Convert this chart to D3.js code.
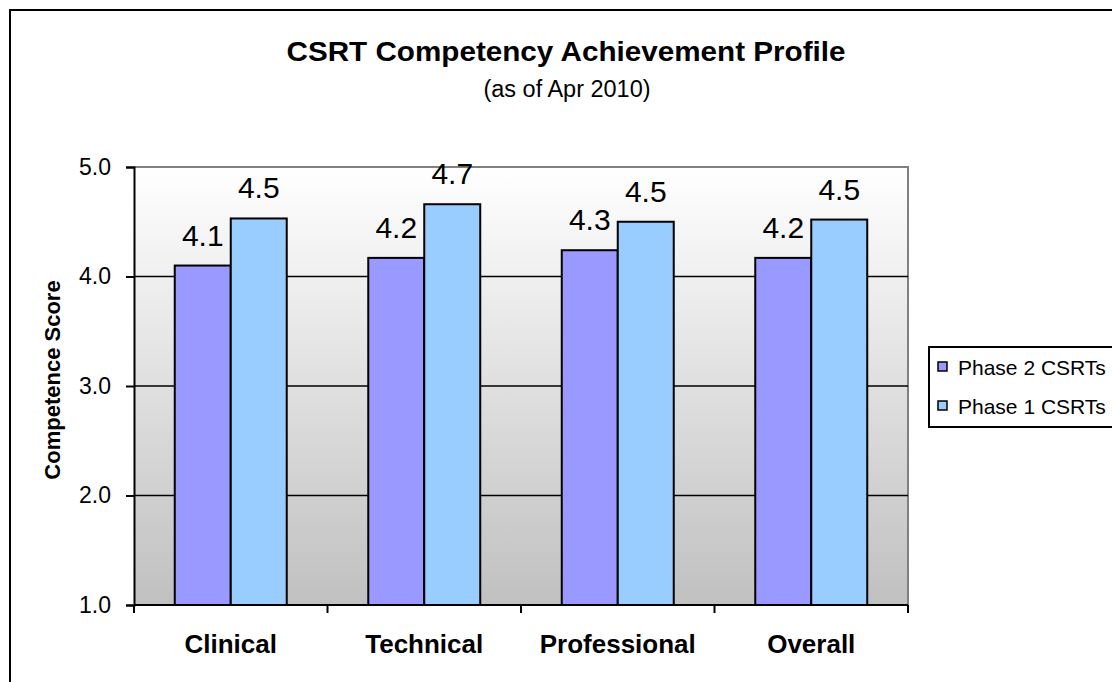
<!DOCTYPE html>
<html>
<head>
<meta charset="utf-8">
<script src="https://cdn.jsdelivr.net/npm/d3@7"></script>
<style>
  body { margin: 0; background: #fff; }
  svg { display: block; font-family: Arial, "Liberation Sans", sans-serif; }
</style>
</head>
<body>
<div id="chart"></div>
<script>
// chart data
var categories = ["Clinical", "Technical", "Professional", "Overall"];
var seriesNames = ["Phase 2 CSRTs", "Phase 1 CSRTs"];
var phase2Scores = [4.1, 4.17, 4.24, 4.17];
var phase1Scores = [4.53, 4.66, 4.5, 4.52];
var phase2Labels = ["4.1", "4.2", "4.3", "4.2"];
var phase1Labels = ["4.5", "4.7", "4.5", "4.5"];
var yTicks = [1, 2, 3, 4, 5];
var seriesColors = ["#9999ff", "#99ccff"];

var W = 1112, H = 682;
var plot = {left: 134, right: 908, top: 167, bottom: 605};

var svg = d3.select("#chart").append("svg")
    .attr("width", W)
    .attr("height", H);

// outer frame of the chart
svg.append("rect")
    .attr("x", 10).attr("y", 10)
    .attr("width", W + 20).attr("height", H + 20)
    .attr("fill", "#fff")
    .attr("stroke", "#000")
    .attr("stroke-width", 2);

var defs = svg.append("defs");
var grad = defs.append("linearGradient")
    .attr("id", "plotBg")
    .attr("x1", 0).attr("y1", 0).attr("x2", 0).attr("y2", 1);
grad.append("stop").attr("offset", "0%").attr("stop-color", "#ffffff");
grad.append("stop").attr("offset", "100%").attr("stop-color", "#c0c0c0");

var y = d3.scaleLinear().domain([1, 5]).range([plot.bottom, plot.top]);
var x0 = d3.scaleBand().domain(categories).range([plot.left, plot.right]).padding(0);
var x1 = d3.scaleBand().domain(seriesNames).range([0, x0.bandwidth()])
    .paddingInner(0).paddingOuter(0.728);

// plot background
svg.append("rect")
    .attr("x", plot.left).attr("y", plot.top)
    .attr("width", plot.right - plot.left)
    .attr("height", plot.bottom - plot.top)
    .attr("fill", "url(#plotBg)");

// top + right border (gray)
svg.append("path")
    .attr("d", "M" + plot.left + "," + plot.top + "H" + plot.right + "V" + plot.bottom)
    .attr("fill", "none")
    .attr("stroke", "#808080")
    .attr("stroke-width", 2);

// gridlines
svg.append("g").selectAll("line")
    .data(yTicks.filter(function(d){ return d > 1 && d < 5; }))
    .enter().append("line")
    .attr("x1", plot.left).attr("x2", plot.right)
    .attr("y1", function(d){ return y(d); })
    .attr("y2", function(d){ return y(d); })
    .attr("stroke", "#000")
    .attr("stroke-width", 1.5);

// bars
var rows = categories.map(function(c, i){
    return {cat: c, vals: [
        {s: seriesNames[0], v: phase2Scores[i], lab: phase2Labels[i], col: seriesColors[0]},
        {s: seriesNames[1], v: phase1Scores[i], lab: phase1Labels[i], col: seriesColors[1]}
    ]};
});

var groups = svg.append("g").selectAll("g")
    .data(rows)
    .enter().append("g")
    .attr("transform", function(d){ return "translate(" + x0(d.cat) + ",0)"; });

groups.selectAll("rect")
    .data(function(d){ return d.vals; })
    .enter().append("rect")
    .attr("x", function(d){ return x1(d.s); })
    .attr("y", function(d){ return y(d.v); })
    .attr("width", x1.bandwidth())
    .attr("height", function(d){ return y(1) - y(d.v); })
    .attr("fill", function(d){ return d.col; })
    .attr("stroke", "#000")
    .attr("stroke-width", 2);

groups.selectAll("text")
    .data(function(d){ return d.vals; })
    .enter().append("text")
    .attr("x", function(d){ return x1(d.s) + x1.bandwidth() / 2; })
    .attr("y", function(d){ return y(d.v) - 20; })
    .attr("text-anchor", "middle")
    .attr("font-size", 30)
    .attr("fill", "#000")
    .text(function(d){ return d.lab; });

// y axis
var yAxis = d3.axisLeft(y)
    .tickValues(yTicks)
    .tickSize(8)
    .tickPadding(15)
    .tickFormat(d3.format(".1f"));
var gy = svg.append("g")
    .attr("transform", "translate(" + plot.left + ",0)")
    .call(yAxis);
gy.select(".domain").attr("stroke", "#000").attr("stroke-width", 2);
gy.selectAll(".tick line").attr("stroke", "#000").attr("stroke-width", 2);
gy.selectAll(".tick text")
    .attr("font-size", 23)
    .attr("font-family", "Arial, 'Liberation Sans', sans-serif")
    .attr("fill", "#000");

// x axis - ticks sit on the category boundaries
var gx = svg.append("g")
    .attr("transform", "translate(0," + plot.bottom + ")");
gx.append("line")
    .attr("x1", plot.left).attr("x2", plot.right)
    .attr("stroke", "#000").attr("stroke-width", 2);
var bounds = categories.map(function(c){ return x0(c); }).concat([plot.right]);
gx.selectAll("line.tk")
    .data(bounds)
    .enter().append("line")
    .attr("class", "tk")
    .attr("x1", function(d){ return d; })
    .attr("x2", function(d){ return d; })
    .attr("y1", 0).attr("y2", 8)
    .attr("stroke", "#000").attr("stroke-width", 2);
gx.selectAll("text")
    .data(categories)
    .enter().append("text")
    .attr("x", function(d){ return x0(d) + x0.bandwidth() / 2; })
    .attr("y", 48)
    .attr("text-anchor", "middle")
    .attr("font-size", 26)
    .attr("font-weight", "bold")
    .text(function(d){ return d; });

// y title
svg.append("text")
    .attr("transform", "translate(60,380) rotate(-90)")
    .attr("text-anchor", "middle")
    .attr("font-size", 22)
    .attr("font-weight", "bold")
    .text("Competence Score");

// titles
svg.append("text")
    .attr("x", 566).attr("y", 61)
    .attr("text-anchor", "middle")
    .attr("font-size", 28)
    .attr("font-weight", "bold")
    .attr("textLength", 559)
    .attr("lengthAdjust", "spacingAndGlyphs")
    .text("CSRT Competency Achievement Profile");
svg.append("text")
    .attr("x", 567).attr("y", 97)
    .attr("text-anchor", "middle")
    .attr("font-size", 23)
    .attr("textLength", 167)
    .attr("lengthAdjust", "spacingAndGlyphs")
    .text("(as of Apr 2010)");

// legend
var lg = svg.append("g").attr("transform", "translate(929,347)");
lg.append("rect")
    .attr("x", 0).attr("y", 0)
    .attr("width", 200).attr("height", 80)
    .attr("fill", "#fff")
    .attr("stroke", "#000")
    .attr("stroke-width", 2);
var items = lg.selectAll("g.item")
    .data(seriesNames)
    .enter().append("g")
    .attr("class", "item")
    .attr("transform", function(d, i){ return "translate(0," + (20 + i * 39) + ")"; });
items.append("rect")
    .attr("x", 9).attr("y", -5)
    .attr("width", 9).attr("height", 9)
    .attr("fill", function(d, i){ return seriesColors[i]; })
    .attr("stroke", "#000")
    .attr("stroke-width", 1.5);
items.append("text")
    .attr("x", 29).attr("y", 8)
    .attr("font-size", 21)
    .text(function(d){ return d; });
</script>
</body>
</html>
